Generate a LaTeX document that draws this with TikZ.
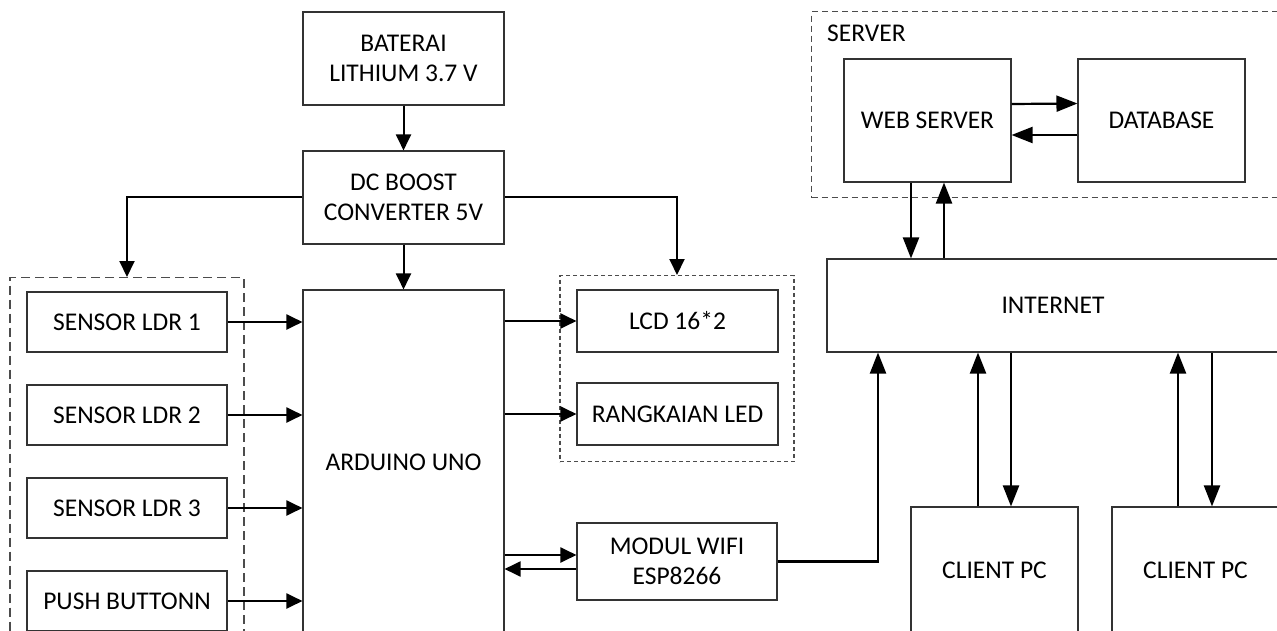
\documentclass[tikz,border=0pt]{standalone}
\usepackage{fontspec}
\setmainfont{Carlito}
\usetikzlibrary{arrows.meta}
\tikzset{
  box/.style={draw=black!80, line width=1.1pt, align=center, inner sep=0pt, font=\fontsize{25.5}{29.5}\selectfont},
  grp/.style={draw=black!70, line width=1.1pt, inner sep=0pt},
  arr/.style={draw=black, line width=2pt, -{Triangle[length=16pt,width=15pt]}},
  arrl/.style={draw=black, line width=2.2pt, -{Triangle[length=21pt,width=16pt]}},
}
\begin{document}
\begin{tikzpicture}[x=1pt,y=-1pt]
\useasboundingbox (0,0) rectangle (1277,631);
\clip (0,0) rectangle (1277,631);
% groups
\node[grp, dash pattern=on 9pt off 5pt, minimum width=234pt, minimum height=420pt, anchor=north] (lgrp) at (127,277) {};
\node[grp, dash pattern=on 4pt off 3pt, minimum width=234pt, minimum height=186pt, anchor=north] (lcdgrp) at (677,275) {};
\node[grp, dash pattern=on 6pt off 4pt, minimum width=520pt, minimum height=186pt, anchor=north west] (sgrp) at (811,11) {};
\node[anchor=west, inner sep=0pt, font=\fontsize{25.5}{29.5}\selectfont] (slbl) at (827,33) {SERVER};
% boxes
\node[box, minimum width=201pt, minimum height=93pt] (bat) at (403.5,58.5) {BATERAI\\LITHIUM 3.7 V};
\node[box, minimum width=201pt, minimum height=93pt] (boost) at (403.5,197.5) {DC BOOST\\CONVERTER 5V};
\node[box, minimum width=200pt, minimum height=60pt] (ldr1) at (127,322) {SENSOR LDR 1};
\node[box, minimum width=200pt, minimum height=60pt] (ldr2) at (127,415) {SENSOR LDR 2};
\node[box, minimum width=200pt, minimum height=60pt] (ldr3) at (127,508) {SENSOR LDR 3};
\node[box, minimum width=200pt, minimum height=60pt] (push) at (127,601) {PUSH BUTTONN};
\node[box, minimum width=201pt, minimum height=344pt] (ard) at (403.5,462) {ARDUINO UNO};
\node[box, minimum width=201pt, minimum height=62pt] (lcd) at (677.5,321) {LCD 16*2};
\node[box, minimum width=201pt, minimum height=62pt] (led) at (677.5,414) {RANGKAIAN LED};
\node[box, minimum width=200pt, minimum height=77pt] (wifi) at (677,561.5) {MODUL WIFI\\ESP8266};
\node[box, minimum width=167pt, minimum height=123pt] (web) at (927.5,120.5) {WEB SERVER};
\node[box, minimum width=167pt, minimum height=123pt] (db) at (1161.5,120.5) {DATABASE};
\node[box, minimum width=452pt, minimum height=93pt] (inet) at (1053,305.5) {INTERNET};
\node[box, minimum width=167pt, minimum height=126pt] (c1) at (994.5,570) {CLIENT PC};
\node[box, minimum width=167pt, minimum height=126pt] (c2) at (1195.5,570) {CLIENT PC};
% connectors
\draw[arr] (bat.south) -- (boost.north);
\draw[arr] (boost.south) -- (ard.north);
\draw[arr] (boost.west) -| (lgrp.north);
\draw[arr] (boost.east) -| (lcdgrp.north);
\draw[arr] (ldr1.east) -- (ldr1.east -| ard.west);
\draw[arr] (ldr2.east) -- (ldr2.east -| ard.west);
\draw[arr] (ldr3.east) -- (ldr3.east -| ard.west);
\draw[arr] (push.east) -- (push.east -| ard.west);
\draw[arr] (lcd.west -| ard.east) -- (lcd.west);
\draw[arr] (led.west -| ard.east) -- (led.west);
\draw[arr] ([yshift=6.5pt]wifi.west -| ard.east) -- ([yshift=6.5pt]wifi.west);
\draw[arr] ([yshift=-7.5pt]wifi.west) -- ([yshift=-7.5pt]wifi.west -| ard.east);
\draw[arrl] (wifi.east) -| ([xshift=-175pt]inet.south);
\draw[arrl] ([xshift=-16.5pt]web.south) -- ([xshift=-16.5pt]web.south |- inet.north);
\draw[arrl] ([xshift=16.5pt]web.south |- inet.north) -- ([xshift=16.5pt]web.south);
\draw[arrl] ([yshift=16.5pt]web.east) -- ([yshift=17pt]db.west);
\draw[arrl] ([yshift=-14.5pt]db.west) -- ([yshift=-14.5pt]web.east);
\draw[arrl] ([xshift=-16.5pt]c1.north) -- ([xshift=-16.5pt]c1.north |- inet.south);
\draw[arrl] ([xshift=16.5pt]c1.north |- inet.south) -- ([xshift=16.5pt]c1.north);
\draw[arrl] ([xshift=-17.5pt]c2.north) -- ([xshift=-17.5pt]c2.north |- inet.south);
\draw[arrl] ([xshift=16.5pt]c2.north |- inet.south) -- ([xshift=16.5pt]c2.north);
\end{tikzpicture}
\end{document}
